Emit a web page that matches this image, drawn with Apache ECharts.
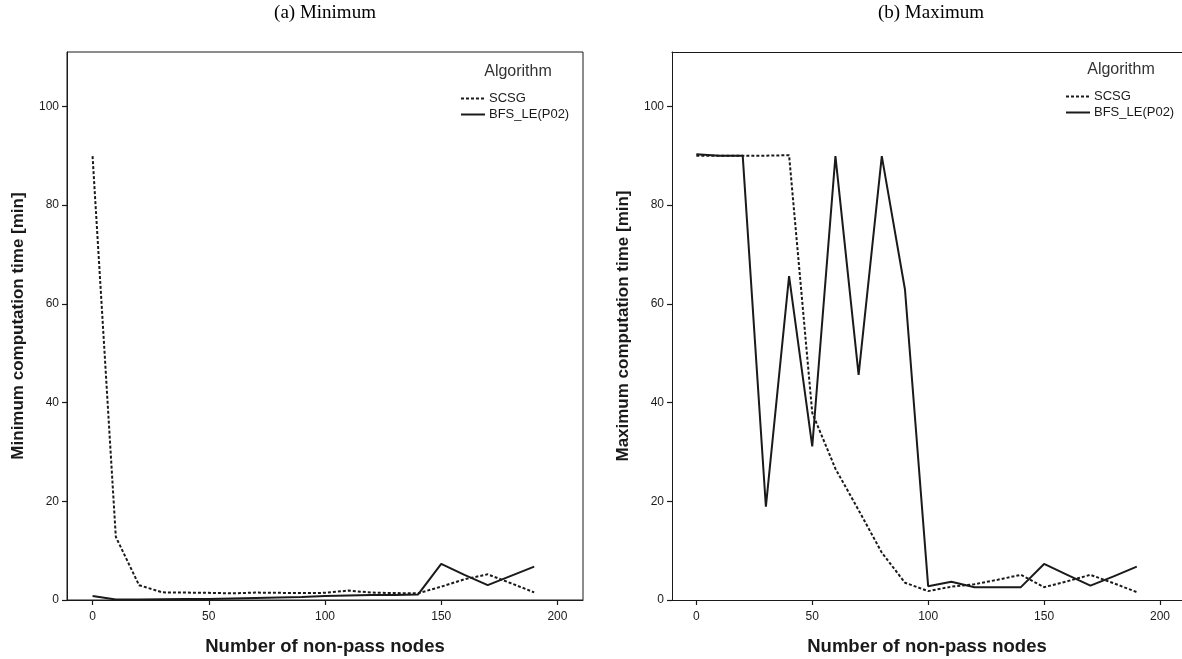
<!DOCTYPE html>
<html>
<head>
<meta charset="utf-8">
<script src="https://cdn.jsdelivr.net/npm/echarts@6/dist/echarts.min.js"></script>
<style>
  html, body { margin: 0; padding: 0; background: #fff; }
  #chart { width: 1182px; height: 659px; }
</style>
</head>
<body>
<div id="chart"></div>
<script>
// number of non-pass nodes
var nodes = [0, 10, 20, 30, 40, 50, 60, 70, 80, 90, 100, 110, 120, 130, 140, 150, 160, 170, 180, 190];

// (a) minimum computation time [min]
var minSCSG = [89.9, 12.8, 3.0, 1.55, 1.5, 1.45, 1.35, 1.5, 1.45, 1.4, 1.45, 1.9, 1.5, 1.4, 1.35, 2.7, 4.2, 5.2, 3.4, 1.55];
var minBFS = [0.8, 0.1, 0.1, 0.15, 0.2, 0.2, 0.3, 0.4, 0.5, 0.6, 0.8, 0.9, 1.0, 1.0, 1.1, 7.3, 5.1, 3.0, 4.9, 6.75];

// (b) maximum computation time [min]
var maxSCSG = [90.0, 90.0, 90.0, 90.0, 90.1, 37.9, 26.6, 18.2, 9.6, 3.5, 1.8, 2.7, 3.2, 4.1, 5.1, 2.6, 3.8, 5.1, 3.4, 1.6];
var maxBFS = [90.3, 90.0, 90.0, 18.9, 65.6, 31.1, 89.9, 45.6, 89.9, 62.9, 2.8, 3.7, 2.6, 2.6, 2.6, 7.3, 5.1, 2.9, 4.8, 6.75];

var seriesNames = ['SCSG', 'BFS_LE(P02)'];
var panelTitles = ['(a) Minimum', '(b) Maximum'];
var yTitles = ['Minimum computation time [min]', 'Maximum computation time [min]'];
var xTitle = 'Number of non-pass nodes';

function pairs(ys) {
  return nodes.map(function (x, i) { return [x, ys[i]]; });
}

var ink = '#1a1a1a';
var font = '"Liberation Sans", Arial, sans-serif';

function xAxisFor(idx, xmin, xmax) {
  return {
    gridIndex: idx,
    type: 'value',
    min: xmin,
    max: xmax,
    minInterval: 50,
    maxInterval: 50,
    axisLine: { show: true, onZero: false, lineStyle: { color: ink, width: 1 } },
    axisTick: { show: true, length: 5, lineStyle: { color: ink, width: 1.2 } },
    axisLabel: { showMinLabel: false, showMaxLabel: false, color: ink, fontSize: 12, fontFamily: font, margin: 11 },
    splitLine: { show: false },
    name: xTitle,
    nameLocation: 'middle',
    nameGap: 37,
    nameTextStyle: { color: ink, fontSize: 18.5, fontWeight: 'bold', fontFamily: font }
  };
}

function yAxisFor(idx) {
  return {
    gridIndex: idx,
    type: 'value',
    min: 0,
    max: 111,
    minInterval: 20,
    maxInterval: 20,
    axisLine: { show: true, onZero: false, lineStyle: { color: ink, width: 1 } },
    axisTick: { show: true, length: 5, lineStyle: { color: ink, width: 1.2 } },
    axisLabel: { showMaxLabel: false, color: ink, fontSize: 12, fontFamily: font, margin: 8 },
    splitLine: { show: false },
    name: yTitles[idx],
    nameLocation: 'middle',
    nameGap: 40,
    nameTextStyle: { color: ink, fontSize: 17, fontWeight: 'bold', fontFamily: font }
  };
}

function lineSeries(name, ys, idx, dotted) {
  return {
    name: name,
    type: 'line',
    xAxisIndex: idx,
    yAxisIndex: idx,
    data: pairs(ys),
    symbol: 'none',
    animation: false,
    lineStyle: { color: ink, width: 2, type: dotted ? [3, 2] : 'solid' },
    itemStyle: { color: ink }
  };
}

function legendFor(left, top) {
  return {
    data: seriesNames,
    orient: 'vertical',
    left: left,
    top: top,
    padding: 0,
    itemWidth: 24,
    itemHeight: 14,
    itemGap: 3,
    selectedMode: false,
    itemStyle: { opacity: 0, borderWidth: 0 },
    textStyle: { color: ink, fontSize: 13, fontFamily: font, padding: [0, 0, 0, -1] }
  };
}

var chart = echarts.init(document.getElementById('chart'), null, { renderer: 'canvas' });

// right panel runs off the edge of the picture, so its frame is only the top line
var rightTopLine = {
  gridIndex: 1,
  type: 'value',
  position: 'top',
  min: -10.5,
  max: 209.5,
  axisLine: { show: true, onZero: false, lineStyle: { color: ink, width: 1 } },
  axisTick: { show: false },
  axisLabel: { show: false },
  splitLine: { show: false }
};

chart.setOption({
  backgroundColor: '#fff',
  animation: false,
  grid: [
    { left: 67, top: 52, width: 516, height: 548, outerBoundsMode: 'none', containLabel: false, show: true, borderColor: ink, borderWidth: 1 },
    { left: 672, top: 52, width: 510, height: 548, outerBoundsMode: 'none', containLabel: false, show: false }
  ],
  xAxis: [xAxisFor(0, -11, 211), xAxisFor(1, -10.5, 209.5), rightTopLine],
  yAxis: [yAxisFor(0), yAxisFor(1)],
  legend: [legendFor(460, 92), legendFor(1065, 90)],
  graphic: [
    { type: 'text', x: 325, y: 13, style: { text: panelTitles[0], fill: '#000', font: '19px "Liberation Serif", "Times New Roman", serif', textAlign: 'center', textVerticalAlign: 'middle' } },
    { type: 'text', x: 931, y: 13, style: { text: panelTitles[1], fill: '#000', font: '19px "Liberation Serif", "Times New Roman", serif', textAlign: 'center', textVerticalAlign: 'middle' } },
    { type: 'text', x: 518, y: 72, style: { text: 'Algorithm', fill: '#333', font: '16px "Liberation Sans", Arial, sans-serif', textAlign: 'center', textVerticalAlign: 'middle' } },
    { type: 'text', x: 1121, y: 70, style: { text: 'Algorithm', fill: '#333', font: '16px "Liberation Sans", Arial, sans-serif', textAlign: 'center', textVerticalAlign: 'middle' } }
  ],
  series: [
    lineSeries(seriesNames[0], minSCSG, 0, true),
    lineSeries(seriesNames[1], minBFS, 0, false),
    lineSeries(seriesNames[0], maxSCSG, 1, true),
    lineSeries(seriesNames[1], maxBFS, 1, false)
  ]
});
</script>
</body>
</html>
